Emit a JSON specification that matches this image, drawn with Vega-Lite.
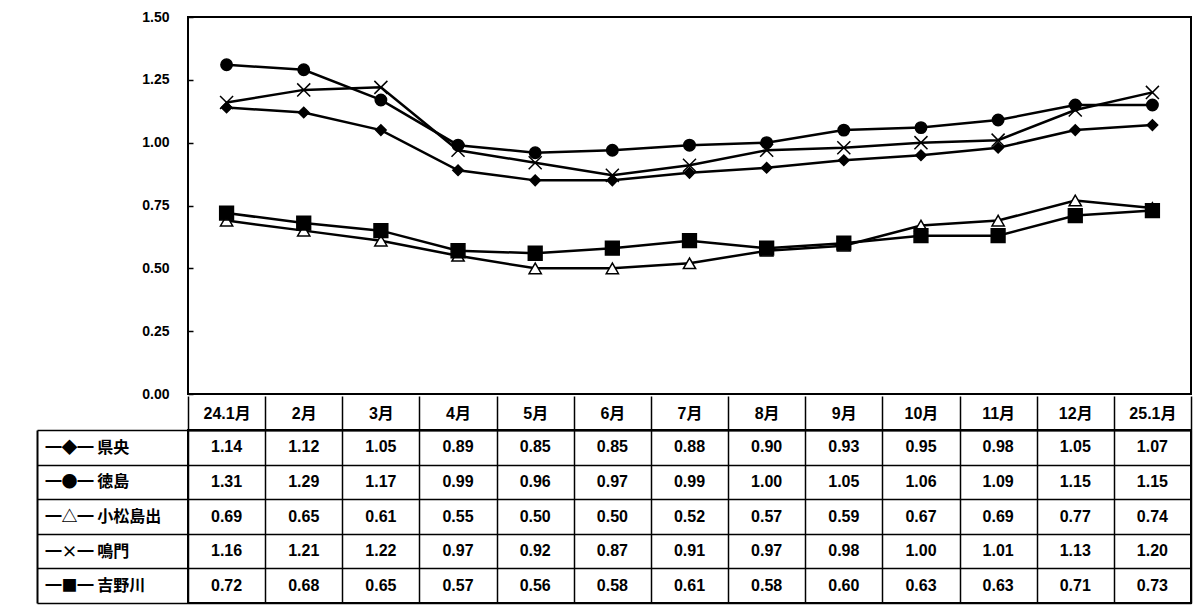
{
  "$schema": "https://vega.github.io/schema/vega-lite/v6.json",
  "background": "white",
  "padding": {"left": 35, "top": 9, "right": 0, "bottom": 4},
  "spacing": -8,
  "resolve": {"scale": {"x": "independent", "y": "independent"}},
  "config": {
    "view": {"stroke": "black", "strokeWidth": 2},
    "font": "Liberation Sans"
  },
  "datasets": {
    "d": [
      {"month": "24.1月", "series": "県央", "value": 1.14},
      {"month": "2月", "series": "県央", "value": 1.12},
      {"month": "3月", "series": "県央", "value": 1.05},
      {"month": "4月", "series": "県央", "value": 0.89},
      {"month": "5月", "series": "県央", "value": 0.85},
      {"month": "6月", "series": "県央", "value": 0.85},
      {"month": "7月", "series": "県央", "value": 0.88},
      {"month": "8月", "series": "県央", "value": 0.90},
      {"month": "9月", "series": "県央", "value": 0.93},
      {"month": "10月", "series": "県央", "value": 0.95},
      {"month": "11月", "series": "県央", "value": 0.98},
      {"month": "12月", "series": "県央", "value": 1.05},
      {"month": "25.1月", "series": "県央", "value": 1.07},
      {"month": "24.1月", "series": "徳島", "value": 1.31},
      {"month": "2月", "series": "徳島", "value": 1.29},
      {"month": "3月", "series": "徳島", "value": 1.17},
      {"month": "4月", "series": "徳島", "value": 0.99},
      {"month": "5月", "series": "徳島", "value": 0.96},
      {"month": "6月", "series": "徳島", "value": 0.97},
      {"month": "7月", "series": "徳島", "value": 0.99},
      {"month": "8月", "series": "徳島", "value": 1.00},
      {"month": "9月", "series": "徳島", "value": 1.05},
      {"month": "10月", "series": "徳島", "value": 1.06},
      {"month": "11月", "series": "徳島", "value": 1.09},
      {"month": "12月", "series": "徳島", "value": 1.15},
      {"month": "25.1月", "series": "徳島", "value": 1.15},
      {"month": "24.1月", "series": "小松島出", "value": 0.69},
      {"month": "2月", "series": "小松島出", "value": 0.65},
      {"month": "3月", "series": "小松島出", "value": 0.61},
      {"month": "4月", "series": "小松島出", "value": 0.55},
      {"month": "5月", "series": "小松島出", "value": 0.50},
      {"month": "6月", "series": "小松島出", "value": 0.50},
      {"month": "7月", "series": "小松島出", "value": 0.52},
      {"month": "8月", "series": "小松島出", "value": 0.57},
      {"month": "9月", "series": "小松島出", "value": 0.59},
      {"month": "10月", "series": "小松島出", "value": 0.67},
      {"month": "11月", "series": "小松島出", "value": 0.69},
      {"month": "12月", "series": "小松島出", "value": 0.77},
      {"month": "25.1月", "series": "小松島出", "value": 0.74},
      {"month": "24.1月", "series": "鳴門", "value": 1.16},
      {"month": "2月", "series": "鳴門", "value": 1.21},
      {"month": "3月", "series": "鳴門", "value": 1.22},
      {"month": "4月", "series": "鳴門", "value": 0.97},
      {"month": "5月", "series": "鳴門", "value": 0.92},
      {"month": "6月", "series": "鳴門", "value": 0.87},
      {"month": "7月", "series": "鳴門", "value": 0.91},
      {"month": "8月", "series": "鳴門", "value": 0.97},
      {"month": "9月", "series": "鳴門", "value": 0.98},
      {"month": "10月", "series": "鳴門", "value": 1.00},
      {"month": "11月", "series": "鳴門", "value": 1.01},
      {"month": "12月", "series": "鳴門", "value": 1.13},
      {"month": "25.1月", "series": "鳴門", "value": 1.20},
      {"month": "24.1月", "series": "吉野川", "value": 0.72},
      {"month": "2月", "series": "吉野川", "value": 0.68},
      {"month": "3月", "series": "吉野川", "value": 0.65},
      {"month": "4月", "series": "吉野川", "value": 0.57},
      {"month": "5月", "series": "吉野川", "value": 0.56},
      {"month": "6月", "series": "吉野川", "value": 0.58},
      {"month": "7月", "series": "吉野川", "value": 0.61},
      {"month": "8月", "series": "吉野川", "value": 0.58},
      {"month": "9月", "series": "吉野川", "value": 0.60},
      {"month": "10月", "series": "吉野川", "value": 0.63},
      {"month": "11月", "series": "吉野川", "value": 0.63},
      {"month": "12月", "series": "吉野川", "value": 0.71},
      {"month": "25.1月", "series": "吉野川", "value": 0.73}
    ]
  },
  "vconcat": [
    {
      "width": 1003,
      "height": 377,
      "data": {"name": "d"},
      "encoding": {
        "x": {
          "field": "month", "type": "ordinal",
          "sort": ["24.1月","2月","3月","4月","5月","6月","7月","8月","9月","10月","11月","12月","25.1月"],
          "scale": {"type": "point", "padding": 0.5},
          "axis": null
        },
        "y": {
          "field": "value", "type": "quantitative",
          "scale": {"domain": [0, 1.5], "nice": false},
          "axis": {
            "values": [0, 0.25, 0.5, 0.75, 1, 1.25, 1.5],
            "format": ".2f",
            "domain": false,
            "grid": false,
            "ticks": true,
            "tickSize": -5,
            "tickColor": "black",
            "tickWidth": 1.5,
            "labelPadding": 24,
            "labelFlush": false,
            "labelFont": "Liberation Sans",
            "labelFontWeight": "bold",
            "labelFontSize": 14,
            "labelColor": "black",
            "title": null
          }
        }
      },
      "layer": [
        {
          "mark": {"type": "line", "color": "black", "strokeWidth": 2.5},
          "encoding": {"detail": {"field": "series"}}
        },
        {
          "mark": {"type": "point", "filled": true, "stroke": "black", "strokeWidth": 1.5, "opacity": 1, "fillOpacity": 1},
          "encoding": {
            "shape": {
              "field": "series", "type": "nominal",
              "scale": {
                "domain": ["県央", "徳島", "小松島出", "鳴門", "吉野川"],
                "range": ["diamond", "circle", "triangle-up", "M-1,-1L1,1M-1,1L1,-1", "square"]
              },
              "legend": null
            },
            "fill": {
              "field": "series", "type": "nominal",
              "scale": {
                "domain": ["県央", "徳島", "小松島出", "鳴門", "吉野川"],
                "range": ["black", "black", "white", "transparent", "black"]
              },
              "legend": null
            },
            "size": {
              "field": "series", "type": "nominal",
              "scale": {
                "domain": ["県央", "徳島", "小松島出", "鳴門", "吉野川"],
                "range": [110, 190, 120, 130, 80]
              },
              "legend": null
            }
          }
        }
      ]
    },
    {
      "width": 1003,
      "height": 173,
      "data": {"name": "d"},
      "mark": {"type": "text", "font": "Liberation Sans", "fontWeight": "bold", "fontSize": 16, "color": "black"},
      "encoding": {
        "x": {
          "field": "month", "type": "ordinal",
          "sort": ["24.1月","2月","3月","4月","5月","6月","7月","8月","9月","10月","11月","12月","25.1月"],
          "scale": {"type": "band", "paddingInner": 0, "paddingOuter": 0},
          "axis": {
            "orient": "top",
            "tickBand": "extent",
            "ticks": true,
            "tickSize": 34,
            "tickColor": "black",
            "tickWidth": 1.5,
            "domain": true,
            "domainColor": "black",
            "domainWidth": 2,
            "grid": true,
            "gridColor": "black",
            "gridWidth": 1.5,
            "gridOpacity": 1,
            "labelAngle": 0,
            "labelPadding": -17,
            "labelBaseline": "middle",
            "labelFont": "Liberation Sans, Noto Sans CJK JP",
            "labelFontWeight": "bold",
            "labelFontSize": 16,
            "labelColor": "black",
            "labelOverlap": false,
            "labelExpr": "datum.value == null ? '' : datum.label",
            "title": null
          }
        },
        "y": {
          "field": "series", "type": "nominal",
          "sort": ["県央", "徳島", "小松島出", "鳴門", "吉野川"],
          "scale": {"type": "band", "paddingInner": 0, "paddingOuter": 0},
          "axis": {
            "orient": "left",
            "offset": 151,
            "tickBand": "extent",
            "ticks": true,
            "tickSize": -1154,
            "tickColor": "black",
            "tickWidth": 1.5,
            "domain": true,
            "domainColor": "black",
            "domainWidth": 2,
            "grid": false,
            "labelAlign": "left",
            "labelBaseline": "middle",
            "labelPadding": 1146,
            "labelFont": "Noto Sans CJK JP",
            "labelFontWeight": "bold",
            "labelFontSize": 16,
            "labelColor": "black",
            "labelLimit": 0,
            "labelExpr": "datum.value == null ? '' : (datum.value == '県央' ? '━◆━ ' : datum.value == '徳島' ? '━●━ ' : datum.value == '小松島出' ? '━△━ ' : datum.value == '鳴門' ? '━×━ ' : '━■━ ') + datum.value",
            "title": null
          }
        },
        "text": {"field": "value", "type": "quantitative", "format": ".2f"}
      }
    }
  ]
}
